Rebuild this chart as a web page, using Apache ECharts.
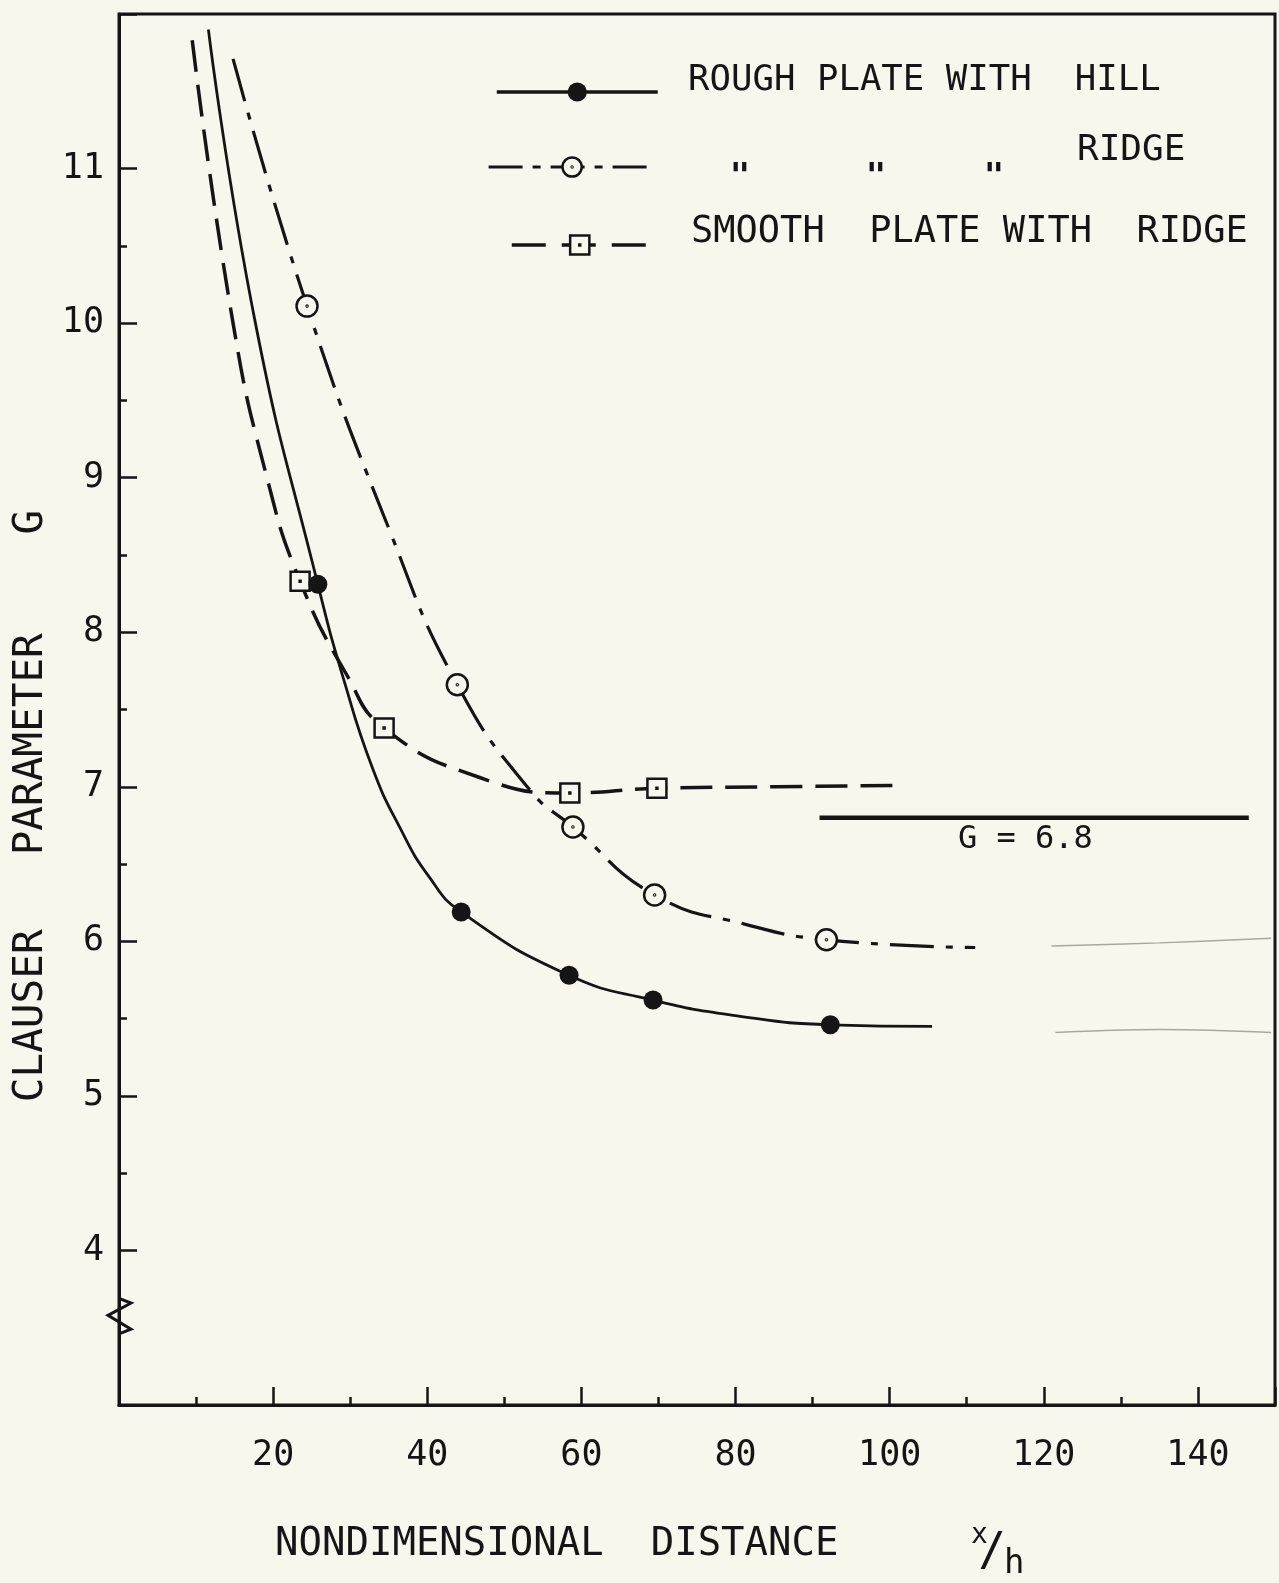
<!DOCTYPE html>
<html>
<head>
<meta charset="utf-8">
<script src="https://cdn.jsdelivr.net/npm/echarts@6/dist/echarts.min.js"></script>
<style>
  html, body { margin: 0; padding: 0; background: #f7f7ee; }
  #chart { width: 1279px; height: 1583px; }
</style>
</head>
<body>
<div id="chart"></div>
<script>
// ---- Data -------------------------------------------------------------
// Axis tick labels and intermediate (half-unit) ticks on the G axis
const xTickLabels = [20, 40, 60, 80, 100, 120, 140];
const yTickLabels = [4, 5, 6, 7, 8, 9, 10, 11];
const yHalfTicks  = [4.5, 5.5, 6.5, 7.5, 8.5, 9.5, 10.5];

// Measured stations: nondimensional distance x/h and Clauser parameter G
const roughHillX   = [25.8, 44.4, 58.4, 69.3, 92.3];
const roughHillG   = [8.31, 6.19, 5.78, 5.62, 5.46];
const roughRidgeX  = [24.4, 43.9, 58.9, 69.5, 91.8];
const roughRidgeG  = [10.11, 7.66, 6.74, 6.30, 6.01];
const smoothRidgeX = [23.5, 34.4, 58.5, 69.8];
const smoothRidgeG = [8.33, 7.38, 6.96, 6.99];

// Faired curves drawn through the stations (extra knots, no marker)
const roughHillFairX   = [11.6, 17.7, 29.3, 32.9, 36.4, 40.2, 80.0, 105.5];
const roughHillFairG   = [11.9, 10.0, 7.67, 7.12, 6.74, 6.42, 5.52, 5.45];
const roughRidgeFairX  = [14.8, 35.1, 53.3, 81.3, 111.1];
const roughRidgeFairG  = [11.71, 8.66, 6.98, 6.11, 5.96];
const smoothRidgeFairX = [9.5, 14.8, 19.2, 29.6, 46.8, 85.0, 102.0];
const smoothRidgeFairG = [11.83, 10.0, 9.0, 7.72, 7.06, 7.0, 7.01];

// Asymptotic value line
const asymptoteG = 6.8;
const asymptoteX = [90.9, 146.6];

// Faint pencil extensions at the right
const pencilUpperX = [121.0, 135.0, 149.5];
const pencilUpperG = [5.97, 5.99, 6.02];
const pencilLowerX = [121.5, 135.0, 149.5];
const pencilLowerG = [5.41, 5.43, 5.41];

const seriesNames = ['ROUGH PLATE WITH HILL', 'ROUGH PLATE WITH RIDGE', 'SMOOTH PLATE WITH RIDGE'];

// ---- Styling ----------------------------------------------------------
const INK = '#151515';
const PAPER = '#f7f7ee';
const MONO = '"DejaVu Sans Mono", "Liberation Mono", monospace';

// circle with centre dot, square with centre dot
const RING_DOT = 'path://M0,-10A10,10 0 1,1 0,10A10,10 0 1,1 0,-10Z M0,-0.5A0.5,0.5 0 1,1 0,0.5A0.5,0.5 0 1,1 0,-0.5Z';
const SQUARE_DOT = 'path://M-10,-10H10V10H-10Z M-0.5,-0.5H0.5V0.5H-0.5Z';

const DASH_DOT = [44, 12, 7, 12];
const DASH = [32, 13];

function curveData(fairX, fairG, ptX, ptG) {
  const items = [];
  fairX.forEach((x, i) => items.push({ value: [x, fairG[i]], symbol: 'none' }));
  ptX.forEach((x, i) => items.push({ value: [x, ptG[i]] }));
  items.sort((a, b) => a.value[0] - b.value[0]);
  return items;
}
function pairs(xs, ys) { return xs.map((x, i) => [x, ys[i]]); }

const chart = echarts.init(document.getElementById('chart'), null, { renderer: 'canvas' });

const tickStyle = { color: INK, width: 2.5 };

const option = {
  backgroundColor: PAPER,
  animation: false,
  grid: {
    left: 119, right: 4, top: 14, bottom: 178,
    show: true, borderColor: INK, borderWidth: 3, backgroundColor: 'transparent'
  },
  xAxis: {
    type: 'value', min: 0, max: 150, interval: 20,
    axisLine: { show: true, onZero: false, lineStyle: { color: INK, width: 3 } },
    axisTick: { show: true, inside: true, length: 18, lineStyle: tickStyle },
    minorTick: { show: true, splitNumber: 2, length: 8, lineStyle: tickStyle },
    splitLine: { show: false },
    axisLabel: {
      margin: 33, color: INK, fontSize: 35, fontFamily: MONO,
      formatter: v => (xTickLabels.indexOf(v) >= 0 ? String(v) : '')
    }
  },
  yAxis: [
    {
      type: 'value', min: 3, max: 12, interval: 1, position: 'left',
      axisLine: { show: true, onZero: false, lineStyle: { color: INK, width: 3 } },
      axisTick: { show: true, inside: true, length: 18, lineStyle: tickStyle },
      splitLine: { show: false },
      axisLabel: {
        margin: 15, color: INK, fontSize: 35, fontFamily: MONO,
        formatter: v => (yTickLabels.indexOf(v) >= 0 ? String(v) : '')
      }
    },
    {
      // half-unit ticks only
      type: 'value', min: 3, max: 12, position: 'left', offset: 0,
      axisLine: { show: false },
      axisTick: { show: true, inside: true, length: 8, lineStyle: tickStyle, customValues: yHalfTicks },
      axisLabel: { show: false },
      splitLine: { show: false }
    }
  ],
  legend: [
    {
      data: [seriesNames[0]], left: 495, top: 80, padding: 0,
      itemWidth: 161, itemHeight: 24, selectedMode: false, formatter: () => '',
      itemStyle: { color: INK, borderWidth: 0 },
      lineStyle: { color: INK, width: 3.5, type: 'solid' }
    },
    {
      data: [seriesNames[1]], left: 487, top: 155, padding: 0,
      itemWidth: 167, itemHeight: 24, selectedMode: false, formatter: () => '',
      itemStyle: { color: PAPER, borderColor: INK, borderWidth: 2.5 },
      lineStyle: { color: INK, width: 3.2, type: [34, 10, 8, 10] }
    },
    {
      data: [seriesNames[2]], left: 510, top: 233, padding: 0,
      itemWidth: 136, itemHeight: 24, selectedMode: false, formatter: () => '',
      itemStyle: { color: PAPER, borderColor: INK, borderWidth: 2.5 },
      lineStyle: { color: INK, width: 3.5, type: [34, 16] }
    }
  ],
  series: [
    {
      name: 'pencil upper', type: 'line', silent: true, symbol: 'none', smooth: 0.4,
      data: pairs(pencilUpperX, pencilUpperG),
      lineStyle: { color: '#a8a8a0', width: 1.4 }, z: 1
    },
    {
      name: 'pencil lower', type: 'line', silent: true, symbol: 'none', smooth: 0.4,
      data: pairs(pencilLowerX, pencilLowerG),
      lineStyle: { color: '#a8a8a0', width: 1.4 }, z: 1
    },
    {
      name: 'G = 6.8', type: 'line', silent: true, symbol: 'none',
      data: asymptoteX.map(x => [x, asymptoteG]),
      lineStyle: { color: INK, width: 4.5 }, z: 2
    },
    {
      name: seriesNames[2], type: 'line', silent: true, smooth: 0.5,
      symbol: SQUARE_DOT, symbolSize: 19,
      data: curveData(smoothRidgeFairX, smoothRidgeFairG, smoothRidgeX, smoothRidgeG),
      lineStyle: { color: INK, width: 3.5, type: DASH },
      itemStyle: { color: PAPER, borderColor: INK, borderWidth: 2.5 }, z: 3
    },
    {
      name: seriesNames[1], type: 'line', silent: true, smooth: 0.5,
      symbol: RING_DOT, symbolSize: 21,
      data: curveData(roughRidgeFairX, roughRidgeFairG, roughRidgeX, roughRidgeG),
      lineStyle: { color: INK, width: 3.2, type: DASH_DOT },
      itemStyle: { color: PAPER, borderColor: INK, borderWidth: 2.5 }, z: 4
    },
    {
      name: seriesNames[0], type: 'line', silent: true, smooth: 0.5,
      symbol: 'circle', symbolSize: 19,
      data: curveData(roughHillFairX, roughHillFairG, roughHillX, roughHillG),
      lineStyle: { color: INK, width: 2.8 },
      itemStyle: { color: INK, borderWidth: 0 }, z: 5
    }
  ]
};

chart.setOption(option);

// ---- Annotations: legend wording, axis titles, axis break ----------------
const px = v => chart.convertToPixel({ xAxisIndex: 0 }, v);
const py = v => chart.convertToPixel({ yAxisIndex: 0 }, v);

function label(text, x, y, size, align, weight) {
  return {
    type: 'text', x: x, y: y, silent: true,
    style: {
      text: text, fontSize: size, fontFamily: MONO, fontWeight: weight || 'normal',
      fill: INK, align: align || 'left', verticalAlign: 'middle'
    }
  };
}

const axisX0 = px(0);
const breakMark = [[0, 3.69], [12, 3.66], [-11, 3.58], [12, 3.49], [0, 3.46]]
  .map(p => [axisX0 + p[0], py(p[1])]);

const yTitle = label('CLAUSER   PARAMETER    G', 31, 806, 41, 'center');
yTitle.rotation = Math.PI / 2;

const graphics = [
  label('ROUGH PLATE WITH  HILL', 688, 81, 35.7),
  label('"', 740, 178, 34, 'center', 'bold'),
  label('"', 876, 178, 34, 'center', 'bold'),
  label('"', 994, 178, 34, 'center', 'bold'),
  label('RIDGE', 1077, 151, 36),
  label('SMOOTH  PLATE WITH  RIDGE', 691, 232, 37),
  label('G = 6.8', 958, py(asymptoteG) + 22, 32),
  label('NONDIMENSIONAL  DISTANCE', 275, 1545, 39),
  label('x', 971, 1536, 28),
  label('/', 992, 1553, 46, 'center'),
  label('h', 1004, 1564, 34),
  yTitle,
  {
    type: 'polyline', silent: true, z: 10,
    shape: { points: breakMark },
    style: { stroke: INK, lineWidth: 3, fill: null, lineJoin: 'miter' }
  }
];

chart.setOption({ graphic: graphics });
</script>
</body>
</html>
